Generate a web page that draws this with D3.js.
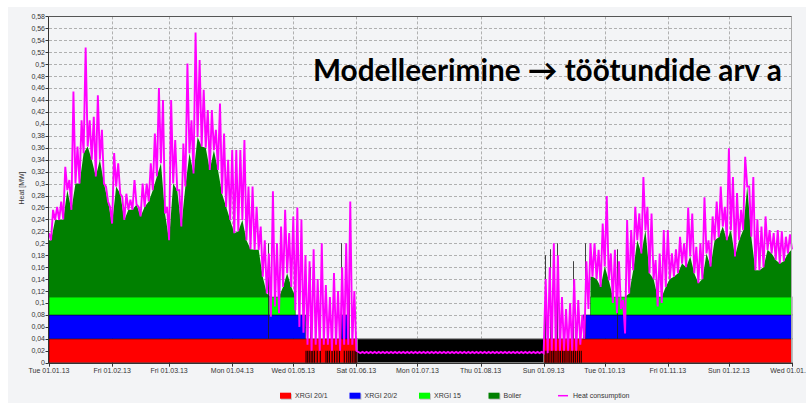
<!DOCTYPE html>
<html lang="en">
<head>
  <meta charset="UTF-8">
  <title>Heat</title>
  <style>
    body { margin: 0; background: #fff; }
    svg text { font-family: "Liberation Sans", Arial, sans-serif; fill: #333; }
  </style>
</head>
<body>
  <svg width="806" height="403"></svg>
  <script src="https://d3js.org/d3.v7.min.js"></script>
  <script>
    // heat consumption, one sample every 2 days from 01.01.2013 (peak / trough in MW)
    var heatHi = [
      .217,.256,.261,.27,.328,.306,.454,.362,.406,.528,
      .406,.412,.448,.39,.295,.261,.351,.334,.278,.283,
      .273,.306,.261,.30,.30,.334,.384,.46,.44,.261,
      .44,.373,.289,.367,.501,.406,.553,.507,.457,.423,
      .423,.39,.434,.384,.34,.356,.356,.356,.373,.295,
      .295,.261,.228,.205,.183,.287,.20,.228,.256,.217,
      .245,.26,.24,.18,.17,.19,.14,.20,.13,.11,
      .15,.12,.16,.20,.27,.12,
      .018,.018,.018,.018,.018,.018,.018,.018,.018,.018,
      .018,.018,.018,.018,.018,.018,.018,.018,.018,.018,
      .018,.018,.018,.018,.018,.018,.018,.018,.018,.018,
      .018,.018,.018,.018,.018,.018,.018,.018,.018,.018,
      .018,.018,.018,.018,.018,.018,
      .14,.16,.20,.18,.11,.09,.10,.14,.105,.08,
      .17,.20,.20,.189,.233,.279,.183,.189,.17,.105,
      .239,.222,.261,.25,.311,.261,.25,.172,.183,.222,
      .222,.183,.19,.211,.20,.26,.25,.194,.20,.277,
      .205,.245,.27,.295,.261,.359,.311,.284,.256,.345,
      .295,.311,.24,.228,.245,.222,.217,.222,.22,.211,
      .215
    ];
    var heatLo = [
      .205,.239,.239,.24,.289,.256,.30,.30,.351,.362,
      .34,.312,.34,.30,.27,.233,.295,.283,.239,.256,
      .256,.265,.245,.261,.27,.289,.312,.334,.25,.205,
      .30,.289,.228,.295,.351,.317,.378,.362,.36,.323,
      .356,.323,.283,.261,.239,.217,.22,.239,.205,.19,
      .189,.189,.144,.116,.077,.094,.083,.127,.15,.127,
      .088,.06,.05,.03,.02,.03,.02,.03,.03,.02,
      .03,.02,.03,.03,.03,.02,
      .016,.016,.016,.016,.016,.016,.016,.016,.016,.016,
      .016,.016,.016,.016,.016,.016,.016,.016,.016,.016,
      .016,.016,.016,.016,.016,.016,.016,.016,.016,.016,
      .016,.016,.016,.016,.016,.016,.016,.016,.016,.016,
      .016,.016,.016,.016,.016,.016,
      .016,.02,.02,.02,.02,.02,.02,.02,.03,.04,
      .09,.144,.14,.127,.161,.138,.10,.083,.09,.049,
      .116,.155,.205,.183,.222,.15,.14,.094,.10,.127,
      .14,.144,.15,.166,.16,.178,.15,.133,.14,.183,
      .161,.205,.21,.228,.205,.222,.178,.205,.222,.295,
      .211,.155,.155,.16,.189,.183,.172,.166,.17,.183,
      .19
    ];

    // unit output (MW) and running periods (day of year from / to)
    var unitNames = ["XRGI 20/1", "XRGI 20/2", "XRGI 15"];
    var unitOutput = [0.04, 0.04, 0.03];
    var unitRuns = [
      [[0, 151.5], [243, 365]],
      [[0, 126], [143, 146.5], [262.5, 365]],
      [[0, 121], [266, 365]]
    ];
    var boilerRuns = [[0, 121], [266, 365]];
    var idleRuns = [[151.5, 243]];
    var idleLevel = 0.04;
    var stripeDays = [126, 126.8, 127.6, 128.5, 129.3, 130.2, 131.5, 133, 135.8, 136.6, 137.5, 138.8, 140,
      141.2, 142.4, 144.8, 146, 147, 147.8, 148.7, 149.6, 150.4, 151,
      243.5, 244.3, 245, 245.8, 246.7, 247.5, 248.3, 249.3, 250.2, 251, 252, 252.8, 253.7, 254.7,
      255.6, 256.5, 257.4, 258.3, 259.3, 260.3, 261.2];
    var blackSpikes = [[107.7, 0.20], [128, 0.16], [143.5, 0.20], [147.5, 0.13], [243.8, 0.18],
      [246.3, 0.19], [249.5, 0.20], [257.6, 0.17], [263.5, 0.20], [279, 0.19]];

    var yTicks = [0, 0.02, 0.04, 0.06, 0.08, 0.1, 0.12, 0.14, 0.16, 0.18, 0.2, 0.22, 0.24, 0.26, 0.28,
      0.3, 0.32, 0.34, 0.36, 0.38, 0.4, 0.42, 0.44, 0.46, 0.48, 0.5, 0.52, 0.54, 0.56, 0.58];
    var monthTicks = ["2013-01-01", "2013-02-01", "2013-03-01", "2013-04-01", "2013-05-01", "2013-06-01",
      "2013-07-01", "2013-08-01", "2013-09-01", "2013-10-01", "2013-11-01", "2013-12-01", "2014-01-01"];
    var legendNames = ["XRGI 20/1", "XRGI 20/2", "XRGI 15", "Boiler", "Heat consumption"];
    var title = "Modelleerimine \u2192 töötundide arv a";

    var colors = ["#ff0000", "#0000ff", "#00ff00", "#008000", "#ff00ff"];

    var svg = d3.select("svg");
    var parse = d3.utcParse("%Y-%m-%d");
    var start = parse("2013-01-01");

    var x = d3.scaleUtc().domain([start, parse("2014-01-01")]).range([49, 792]),
        y = d3.scaleLinear().domain([0, 0.58]).range([362.7, 16.4]);

    function dx(day) { return x(new Date(start.getTime() + day * 864e5)); }
    function crisp(v) { return Math.round(v) + 0.5; }

    // panel
    svg.append("rect").attr("x", 8).attr("y", 7).attr("width", 798).attr("height", 396).attr("fill", "#f3f4f6");

    // grid
    var grid = svg.append("g").attr("stroke", "#b0b0b0").attr("stroke-dasharray", "3,2").attr("stroke-width", 1);
    grid.selectAll(".hy").data(yTicks.slice(1)).enter().append("line")
      .attr("x1", 49).attr("x2", 792)
      .attr("y1", function(d) { return crisp(y(d)); })
      .attr("y2", function(d) { return crisp(y(d)); });
    grid.selectAll(".vx").data(monthTicks.slice(1, -1)).enter().append("line")
      .attr("x1", function(d) { return crisp(x(parse(d))); })
      .attr("x2", function(d) { return crisp(x(parse(d))); })
      .attr("y1", y(0.58)).attr("y2", y(0));

    var plot = svg.append("g");

    // unit bands
    var base = 0;
    unitRuns.forEach(function(runs, k) {
      var lo = base, hi = base + unitOutput[k];
      plot.selectAll(".u" + k).data(runs).enter().append("rect")
        .attr("x", function(r) { return dx(r[0]); })
        .attr("width", function(r) { return dx(r[1]) - dx(r[0]); })
        .attr("y", y(hi))
        .attr("height", y(lo) - y(hi))
        .attr("fill", colors[k])
        .attr("stroke", "rgba(0,0,0,0.55)")
        .attr("stroke-width", 0.8);
      base = hi;
    });

    // boiler fills the rest up to consumption
    var boilerArea = d3.area()
      .x(function(d) { return dx(d[0]); })
      .y0(y(base))
      .y1(function(d) { return y(Math.max(d[1], base)); });
    boilerRuns.forEach(function(r) {
      var pts = [];
      heatLo.forEach(function(v, i) {
        var day = 2 * i + 1;
        if (day >= r[0] && day <= r[1]) pts.push([day, v]);
      });
      pts.unshift([r[0], pts[0][1]]);
      pts.push([r[1], pts[pts.length - 1][1]]);
      plot.append("path").datum(pts).attr("d", boilerArea).attr("fill", colors[3]);
    });

    // idle summer band
    plot.selectAll(".idle").data(idleRuns).enter().append("rect")
      .attr("x", function(r) { return dx(r[0]); })
      .attr("width", function(r) { return dx(r[1]) - dx(r[0]); })
      .attr("y", y(idleLevel))
      .attr("height", y(0) - y(idleLevel))
      .attr("fill", "#000")
      .attr("stroke", "#8a8a8a").attr("stroke-width", 1);

    plot.selectAll(".stripe").data(stripeDays).enter().append("rect")
      .attr("x", function(d) { return dx(d); })
      .attr("width", 1.1)
      .attr("y", y(0.02))
      .attr("height", y(0) - y(0.02))
      .attr("fill", "#1c0000");

    plot.selectAll(".spike").data(blackSpikes).enter().append("line")
      .attr("x1", function(d) { return crisp(dx(d[0])); })
      .attr("x2", function(d) { return crisp(dx(d[0])); })
      .attr("y1", y(0.04)).attr("y2", function(d) { return y(d[1]); })
      .attr("stroke", "#222").attr("stroke-width", 1).attr("opacity", 0.85);

    // heat consumption
    var linePts = [];
    heatHi.forEach(function(v, i) {
      linePts.push([2 * i, v]);
      linePts.push([2 * i + 1, heatLo[i]]);
    });
    var line = d3.line()
      .x(function(d) { return dx(d[0]); })
      .y(function(d) { return y(d[1]); });
    plot.append("path").datum(linePts).attr("d", line)
      .attr("fill", "none").attr("stroke", colors[4]).attr("stroke-width", 1.9)
      .attr("stroke-linejoin", "miter").attr("stroke-miterlimit", 3);

    // frame and axes
    svg.append("line").attr("x1", 49).attr("x2", 792).attr("y1", crisp(y(0.58))).attr("y2", crisp(y(0.58)))
      .attr("stroke", "#555");
    svg.append("line").attr("x1", 791.5).attr("x2", 791.5).attr("y1", y(0.58)).attr("y2", y(0))
      .attr("stroke", "#aaa");
    svg.append("line").attr("x1", 49).attr("x2", 792).attr("y1", crisp(y(0))).attr("y2", crisp(y(0)))
      .attr("stroke", "#333");
    svg.append("line").attr("x1", 48.5).attr("x2", 48.5).attr("y1", y(0.58)).attr("y2", y(0) + 1)
      .attr("stroke", "#333");

    var yax = svg.append("g");
    yax.selectAll("line").data(yTicks).enter().append("line")
      .attr("x1", 45.5).attr("x2", 48.5)
      .attr("y1", function(d) { return crisp(y(d)); })
      .attr("y2", function(d) { return crisp(y(d)); })
      .attr("stroke", "#333");
    yax.selectAll("text").data(yTicks).enter().append("text")
      .attr("x", 45).attr("y", function(d) { return y(d); }).attr("dy", "0.35em")
      .attr("text-anchor", "end").style("font-size", "7px")
      .text(function(d) { return String(+d.toFixed(2)).replace(".", ","); });

    var fmt = d3.utcFormat("%a %d.%m.%y");
    var xax = svg.append("g");
    xax.selectAll("line").data(monthTicks).enter().append("line")
      .attr("x1", function(d) { return crisp(x(parse(d))); })
      .attr("x2", function(d) { return crisp(x(parse(d))); })
      .attr("y1", y(0)).attr("y2", y(0) + 4)
      .attr("stroke", "#333");
    xax.selectAll("text").data(monthTicks).enter().append("text")
      .attr("x", function(d) { return x(parse(d)); }).attr("y", 373)
      .attr("text-anchor", "middle").style("font-size", "7px")
      .text(function(d) { return fmt(parse(d)); });

    svg.append("text")
      .attr("transform", "translate(24,188) rotate(-90)")
      .attr("text-anchor", "middle").style("font-size", "7px")
      .text("Heat [MW]");

    // legend
    var leg = svg.append("g").selectAll("g").data(legendNames).enter().append("g")
      .attr("transform", function(d, i) { return "translate(" + (280 + i * 69.5) + ",395.7)"; });
    leg.filter(function(d, i) { return i < 4; }).append("rect")
      .attr("x", 1).attr("y", -2).attr("width", 11).attr("height", 6).attr("fill", "#c4c4c4");
    leg.filter(function(d, i) { return i < 4; }).append("rect")
      .attr("x", 0).attr("y", -3).attr("width", 11).attr("height", 6)
      .attr("fill", function(d, i) { return colors[i]; });
    leg.filter(function(d, i) { return i === 4; }).append("line")
      .attr("x1", 0).attr("x2", 10).attr("y1", 0).attr("y2", 0)
      .attr("stroke", colors[4]).attr("stroke-width", 1.5);
    leg.append("text").attr("x", 15).attr("dy", "0.35em").style("font-size", "7px")
      .text(function(d) { return d; });

    // title
    var t = svg.append("text").attr("x", 313).attr("y", 81)
      .style("font-family", "Lato, 'Open Sans', sans-serif").style("font-weight", "700")
      .style("font-size", "22px").style("fill", "#000")
      .text(title);
    var w = t.node().getComputedTextLength();
    t.style("font-size", (22 * 469 / w) + "px");
  </script>
</body>
</html>
